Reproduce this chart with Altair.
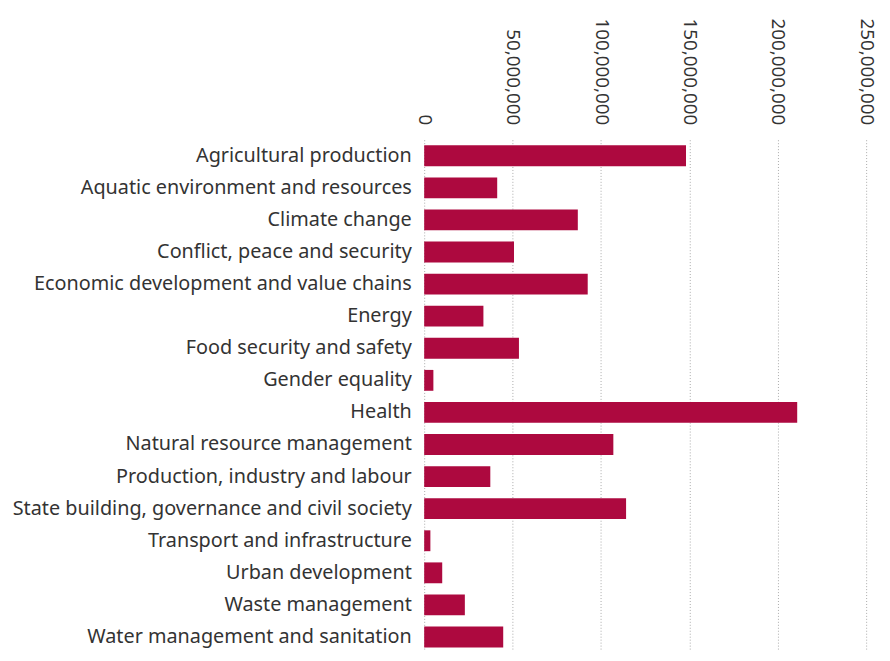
import altair as alt
import pandas as pd

categories = [
    "Agricultural production",
    "Aquatic environment and resources",
    "Climate change",
    "Conflict, peace and security",
    "Economic development and value chains",
    "Energy",
    "Food security and safety",
    "Gender equality",
    "Health",
    "Natural resource management",
    "Production, industry and labour",
    "State building, governance and civil society",
    "Transport and infrastructure",
    "Urban development",
    "Waste management",
    "Water management and sanitation",
]
values = [
    148100000, 41300000, 86900000, 50800000, 92500000, 33500000,
    53600000, 5200000, 211000000, 107000000, 37400000, 114200000,
    3500000, 10200000, 23000000, 44700000,
]
tick_values = [0, 50000000, 100000000, 150000000, 200000000, 250000000]

df = pd.DataFrame({"category": categories, "value": values})

chart = alt.Chart(df).mark_bar(color="#ad093f").encode(
    x=alt.X(
        "value:Q",
        scale=alt.Scale(domain=[0, 250000000], nice=False),
        axis=alt.Axis(
            orient="top",
            title=None,
            values=tick_values,
            format=",.0f",
            labelAngle=90,
            labelAlign="right",
            labelBaseline="middle",
            labelFontSize=19,
            labelFont="Noto Sans",
            labelColor="#333333",
            labelPadding=15,
            ticks=False,
            domain=False,
            grid=True,
            gridColor="#aaaaaa",
            gridDash=[1, 2],
            gridWidth=1,
        ),
    ),
    y=alt.Y(
        "category:N",
        sort=None,
        scale=alt.Scale(paddingInner=0.35, paddingOuter=0.175, round=False),
        axis=alt.Axis(
            title=None,
            labelFontSize=20,
            labelFont="Noto Sans",
            labelColor="#333333",
            labelPadding=13,
            labelLimit=0,
            ticks=False,
            domain=False,
        ),
    ),
).properties(
    width=446,
    height=518,
    autosize=alt.AutoSizeParams(type="none"),
    padding={"left": 420, "top": 130, "right": 16, "bottom": -5},
).configure_view(stroke=None)

chart.save("out.html", embed_options={"renderer": "svg", "actions": False})
